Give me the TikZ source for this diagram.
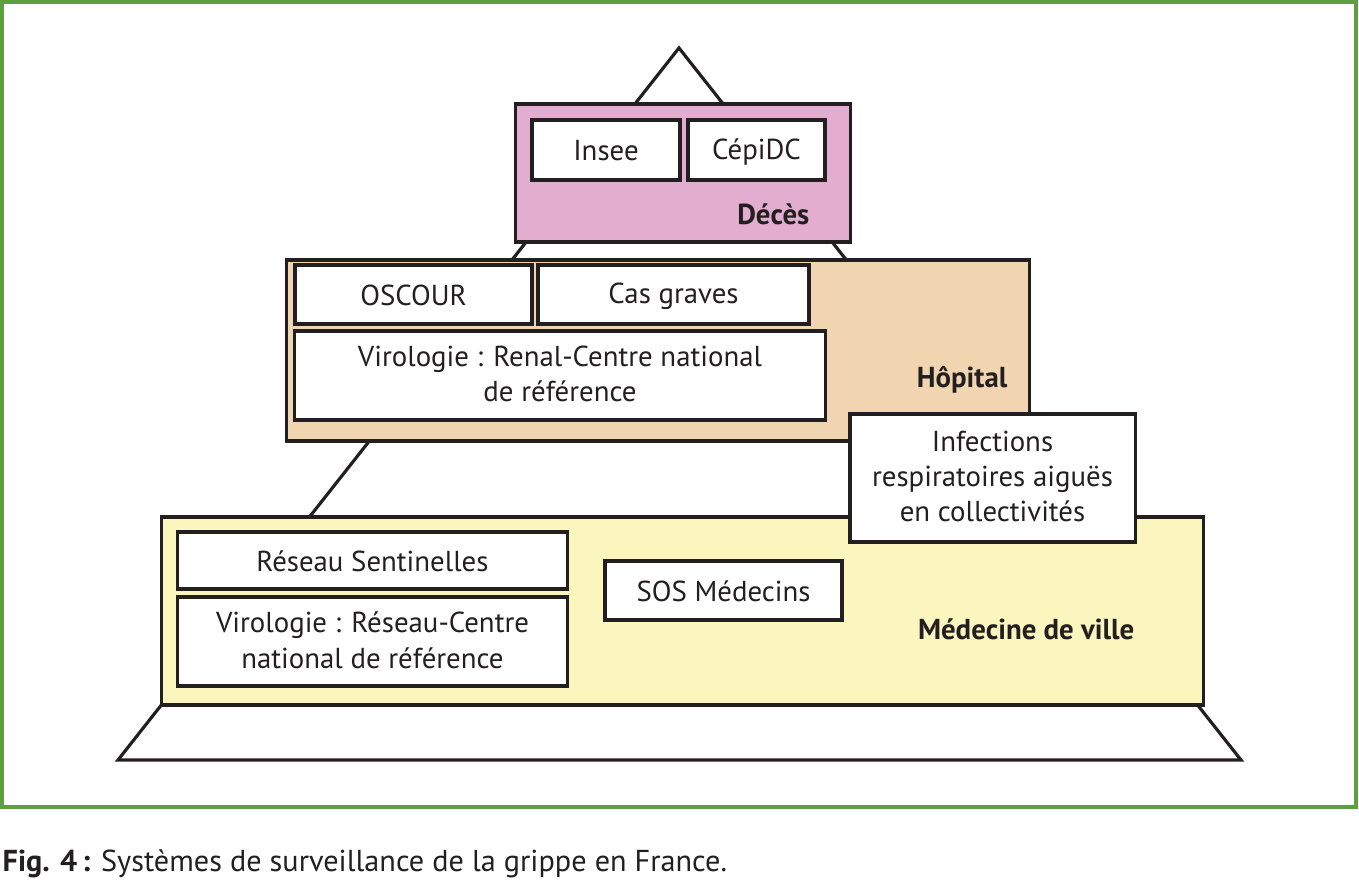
\documentclass[tikz,border=0pt]{standalone}
\usepackage{fontspec}
\setmainfont{PT Sans}
\usepackage{tikz}
\usetikzlibrary{shapes,positioning,calc}
\definecolor{framegreen}{HTML}{5E9F3F}
\definecolor{decespink}{HTML}{E2ADCF}
\definecolor{hopitalpeach}{HTML}{F1D5B0}
\definecolor{villeyellow}{HTML}{FBF5BE}
\definecolor{ink}{HTML}{231F20}
\newcommand{\boxstrut}{\rule[-0.8pt]{0pt}{7.8pt}}
\tikzstyle{layer} = [draw=ink, line width=0.9pt, inner sep=0pt]
\tikzstyle{source} = [draw=ink, line width=0.9pt, fill=white, align=center, inner sep=0pt, font=\fontsize{8.2}{10}\selectfont, text=ink, execute at begin node=\boxstrut, execute at end node=\boxstrut]
\tikzstyle{tag} = [anchor=east, font=\fontsize{8.2}{10}\selectfont\bfseries, text=ink, inner sep=0pt]

\begin{document}
\begin{tikzpicture}[x=0.01cm,y=-0.01cm]
\useasboundingbox (0,0) rectangle (1359,880);
\draw[framegreen, line width=0.9pt] (2,2) rectangle (1356,807);
% pyramid behind the layers
\draw[ink, line width=0.9pt, fill=white] (679,48) -- (1241,760) -- (118,760) -- cycle;

% Deces
\node[layer, fill=decespink, minimum width=3.34cm, minimum height=1.38cm] (deces) at (683,173) {};
\node[source, minimum width=1.48cm, minimum height=0.60cm] (insee) at (606,150) {Insee};
\node[source, minimum width=1.37cm, minimum height=0.60cm] (cepidc) at (756.5,150) {CépiDC};
\node[tag] (decestag) at (810,214) {Décès};

% Hopital
\node[layer, fill=hopitalpeach, minimum width=7.42cm, minimum height=1.81cm] (hopital) at (658,350.5) {};
\node[source, minimum width=2.37cm, minimum height=0.59cm] (oscour) at (413.5,294.5) {OSCOUR};
\node[source, minimum width=2.71cm, minimum height=0.59cm] (casgraves) at (673.5,294.5) {Cas graves};
\node[source, minimum width=5.30cm, minimum height=0.89cm] (virorenal) at (560,375.5) {Virologie : Renal-Centre national\\de référence};
\node[tag] (hopitaltag) at (1008,380) {Hôpital};

% Medecine de ville
\node[layer, fill=villeyellow, minimum width=10.41cm, minimum height=1.88cm] (ville) at (682.5,611) {};
\node[source, minimum width=3.89cm, minimum height=0.57cm] (sentinelles) at (372.5,560.5) {Réseau Sentinelles};
\node[source, minimum width=3.89cm, minimum height=0.89cm] (viroreseau) at (372.5,641.5) {Virologie : Réseau-Centre\\national de référence};
\node[source, minimum width=2.37cm, minimum height=0.59cm] (sos) at (723.5,590.5) {SOS Médecins};
\node[tag] (villetag) at (1135,629) {Médecine de ville};

\node[source, minimum width=2.85cm, minimum height=1.28cm] (ira) at (992.5,478) {Infections\\respiratoires aiguës\\en collectivités};

% caption
\node[anchor=west, inner sep=0pt, font=\fontsize{8.6}{10}\selectfont, text=ink] (caption) at (2,864) {\textbf{Fig. 4\,:} Systèmes de surveillance de la grippe en France.};
\end{tikzpicture}
\end{document}
